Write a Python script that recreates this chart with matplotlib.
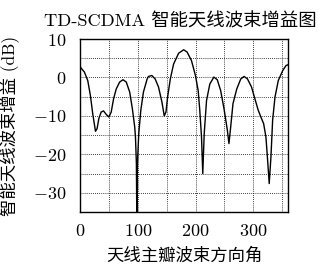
import matplotlib
matplotlib.use("Agg")
import matplotlib.pyplot as plt
from matplotlib.ticker import MultipleLocator

plt.rcParams['font.family'] = ['cmr10', 'Noto Sans CJK SC', 'DejaVu Sans']
plt.rcParams['mathtext.fontset'] = 'cm'
plt.rcParams['axes.formatter.use_mathtext'] = True

angle = [0, 7.6, 13.4, 18, 22, 26.8, 29.6, 32.6, 36.6, 40.7, 45.3, 50, 54, 58.2, 62.7,
         68.6, 74.4, 80.1, 86, 90.6, 94.7, 96, 97.6, 98.5, 99.5, 101.7, 105.2, 109.8, 116.2,
         118.5, 124.4, 130.1, 135.9, 141.8, 145.8, 148.8, 151.6, 156.3, 162, 170.7, 179.4,
         185.4, 192.9, 199.8, 204.5, 207.3, 210.3, 212.5, 215, 219, 224.7, 231.7, 237.6,
         243.4, 249.2, 255, 257.8, 260.8, 264.8, 271.3, 278.2, 284, 289.9, 296.9, 302.6,
         308.4, 313.1, 317.8, 321.8, 324.7, 327.5, 330.5, 333.4, 337.5, 343.2, 350.9,
         356.6, 360]
gain = [2.8, 1.4, -0.8, -4.7, -9.4, -14.0, -13.3, -10.7, -9.0, -8.7, -9.6, -10.3, -9.0,
        -5.5, -3.0, -1.2, -0.6, -1.2, -3.8, -8.1, -12.9, -15.5, -22.4, -40, -22, -14.6,
        -8.6, -3.8, -0.4, 0.26, 0.5, -0.4, -2.5, -6.4, -10.0, -9.0, -5.1, -0.4, 3.5, 6.3,
        7.2, 6.6, 4.4, 0.5, -3.4, -8.5, -15.5, -25.0, -14.6, -6.0, -1.7, 0.1, -0.6, -3.4,
        -8.1, -13.7, -17.2, -12.9, -6.8, -3.0, -0.4, 0.26, -0.4, -2.5, -5.5, -8.5, -10.3,
        -12.0, -15.5, -21.5, -27.6, -20.6, -11.1, -5.1, -0.8, 1.8, 3.1, 3.3]

xticks = [0, 100, 200, 300]
yticks = [10, 0, -10, -20, -30]
title = 'TD-SCDMA 智能天线波束增益图'
xlabel = '天线主瓣波束方向角'
ylabel = '智能天线波束增益 (dB)'

fig = plt.figure(figsize=(3.18, 2.70), dpi=100)
ax = fig.add_axes([80/318, 1-212/270, 208/318, 173/270])
ax.plot(angle, gain, color='black', lw=1.0)
ax.set_xlim(0, 360)
ax.set_ylim(-35, 10)
ax.set_xticks(xticks, [f'${v}$' for v in xticks])
ax.set_yticks(yticks, [f'${v}$' for v in yticks])
ax.xaxis.set_minor_locator(MultipleLocator(50))
ax.yaxis.set_minor_locator(MultipleLocator(5))
ax.grid(True, which='both', color='black', linestyle=(0, (1, 1.5)), linewidth=0.6)
ax.tick_params(which='both', direction='in', length=0, labelsize=13)
ax.tick_params(axis='y', pad=10)
ax.tick_params(axis='x', pad=8)
for s in ax.spines.values():
    s.set_linewidth(1.0)
t = ax.set_title(title, fontsize=13.2, pad=9)
t.set_x(0.48)
ax.set_xlabel(xlabel, fontsize=12.5, labelpad=6)
ax.set_ylabel(ylabel, fontsize=12.5)
ax.yaxis.set_label_coords(-0.29, 0.50)
fig.savefig('out.png', dpi=100)
